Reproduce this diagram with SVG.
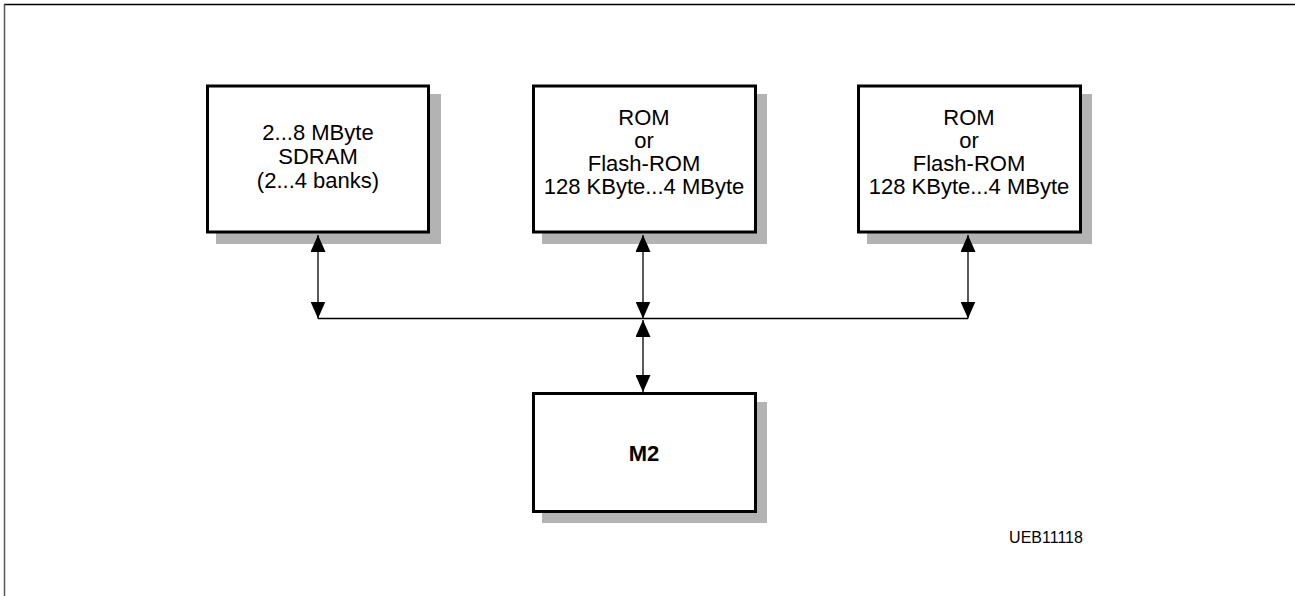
<svg xmlns="http://www.w3.org/2000/svg" width="1295" height="596" viewBox="0 0 1295 596">
<style>
.box{fill:#fff;stroke:#000;stroke-width:3}
.sh{fill:#b3b3b3}
.t{font-family:"Liberation Sans",Arial,sans-serif;font-size:22px;text-anchor:middle;fill:#000}
.c{stroke:#000;stroke-width:1.3;fill:none}
</style>
<defs>
<marker id="ah" markerUnits="userSpaceOnUse" markerWidth="17" markerHeight="15" refX="17" refY="7.5" orient="auto-start-reverse" viewBox="0 0 17 15">
<path d="M0,0 L17,7.5 L0,15 z" fill="#000"/>
</marker>
</defs>
<rect width="1295" height="596" fill="#fff"/>
<g id="frame">
<line x1="4" y1="4.5" x2="1295" y2="4.5" stroke="#000" stroke-width="1.3"/>
<line x1="4.5" y1="4" x2="4.5" y2="596" stroke="#555" stroke-width="1.5"/>
</g>
<g id="sdram">
<rect class="sh" x="216" y="94" width="225" height="150"/>
<rect class="box" x="207.5" y="86" width="221" height="146"/>
<text class="t" x="318" y="140">2...8 MByte</text>
<text class="t" x="318" y="164">SDRAM</text>
<text class="t" x="318" y="188">(2...4 banks)</text>
</g>
<g id="rom1">
<rect class="sh" x="542" y="94" width="225" height="150"/>
<rect class="box" x="533.5" y="86" width="222" height="146"/>
<text class="t" x="644" y="125">ROM</text>
<text class="t" x="644" y="148">or</text>
<text class="t" x="644" y="171">Flash-ROM</text>
<text class="t" x="644" y="194">128 KByte...4 MByte</text>
</g>
<g id="rom2">
<rect class="sh" x="867" y="94" width="225" height="150"/>
<rect class="box" x="858.5" y="86" width="222" height="146"/>
<text class="t" x="969" y="125">ROM</text>
<text class="t" x="969" y="148">or</text>
<text class="t" x="969" y="171">Flash-ROM</text>
<text class="t" x="969" y="194">128 KByte...4 MByte</text>
</g>
<g id="m2">
<rect class="sh" x="542" y="402" width="225" height="121"/>
<rect class="box" x="533.5" y="393.5" width="222" height="118"/>
<text class="t" x="644" y="461" font-weight="bold">M2</text>
</g>
<g id="connectors">
<line class="c" x1="318" y1="318.5" x2="968" y2="318.5"/>
<line class="c" x1="318" y1="318.5" x2="318" y2="235" marker-start="url(#ah)" marker-end="url(#ah)"/>
<line class="c" x1="643" y1="318.5" x2="643" y2="235" marker-start="url(#ah)" marker-end="url(#ah)"/>
<line class="c" x1="968" y1="318.5" x2="968" y2="235" marker-start="url(#ah)" marker-end="url(#ah)"/>
<line class="c" x1="643" y1="320" x2="643" y2="392" marker-start="url(#ah)" marker-end="url(#ah)"/>
</g>
<text id="label" x="1046" y="543" font-family="Liberation Sans, Arial, sans-serif" font-size="16" text-anchor="middle">UEB11118</text>
</svg>
